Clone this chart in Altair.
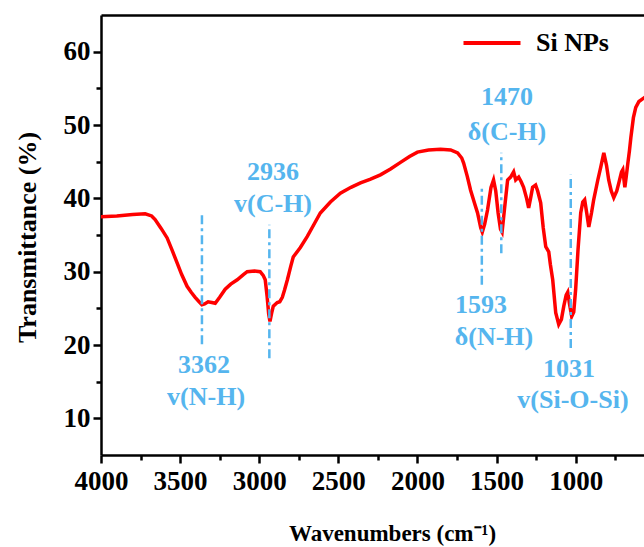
import altair as alt
import pandas as pd

# ---- data ----
wavenumber = [4000, 3900, 3800, 3721, 3680, 3658, 3620, 3582, 3550, 3519, 3490, 3456, 3430, 3405,
              3380, 3362, 3345, 3323, 3300, 3278, 3250, 3215, 3180, 3139, 3100, 3076, 3030, 2994,
              2975, 2962, 2950, 2940, 2932, 2920, 2911, 2886, 2870, 2854, 2840, 2822, 2800, 2785,
              2740, 2696, 2650, 2614, 2550, 2487, 2420, 2360, 2300, 2234, 2170, 2107, 2050, 2000,
              1930, 1854, 1790, 1746, 1720, 1708, 1685, 1664, 1640, 1620, 1600, 1590, 1575, 1557,
              1535, 1519, 1505, 1490, 1475, 1465, 1450, 1430, 1411, 1392, 1379, 1360, 1345, 1329,
              1310, 1297, 1285, 1272, 1253, 1240, 1221, 1205, 1189, 1170, 1160, 1145, 1126, 1107,
              1090, 1075, 1060, 1050, 1038, 1025, 1012, 1000, 985, 968, 955, 943, 930, 917, 900,
              886, 860, 841, 822, 805, 791, 775, 759, 740, 727, 710, 702, 689, 680, 670, 660, 651,
              635, 620, 600, 575, 560]
transmittance = [37.5, 37.6, 37.8, 37.9, 37.6, 37.1, 35.9, 34.6, 32.9, 31.2, 29.6, 28.0, 27.2, 26.5,
                 25.9, 25.5, 25.6, 25.9, 25.8, 25.7, 26.5, 27.6, 28.3, 28.9, 29.6, 30.0, 30.1, 30.0,
                 29.5, 28.9, 26.6, 24.2, 23.2, 24.5, 25.3, 25.8, 25.9, 26.5, 27.5, 28.9, 30.8, 32.0,
                 33.3, 34.8, 36.6, 38.0, 39.5, 40.7, 41.5, 42.1, 42.6, 43.2, 44.0, 44.9, 45.7, 46.3,
                 46.6, 46.7, 46.6, 46.2, 45.5, 44.8, 43.0, 41.1, 39.4, 38.0, 36.0, 35.4, 36.5, 38.4,
                 41.5, 42.5, 41.0, 38.0, 35.8, 35.4, 38.5, 42.5, 42.9, 43.6, 42.5, 42.9, 42.3, 41.5,
                 40.0, 38.7, 40.0, 41.5, 41.8, 41.0, 39.4, 36.0, 33.4, 32.7, 31.0, 28.9, 24.4, 22.8,
                 23.5, 25.3, 26.8, 27.2, 25.5, 23.9, 24.5, 27.6, 33.0, 38.0, 39.5, 39.8, 38.0, 36.1, 38.0,
                 39.8, 42.5, 44.3, 46.2, 44.5, 42.5, 41.0, 40.1, 41.0, 42.1, 43.6, 43.9, 41.5, 43.0, 44.8, 46.5, 48.3,
                 51.0, 52.4, 53.2, 53.6, 53.8]
series_name = "Si NPs"

peak_positions = [3362, 2936, 1593, 1470, 1031]
peak_line_low = [20.1, 18.2, 28.2, 32.5, 19.6]
peak_line_high = [38.1, 36.4, 41.5, 46.2, 43.2]

label_texts = ["3362", "v(N-H)", "2936", "v(C-H)", "1593", "δ(N-H)", "1470", "δ(C-H)", "1031", "v(Si-O-Si)"]
label_x = [3349, 3336, 2913, 2913, 1598, 1516, 1434, 1434, 1042, 1017]
label_y = [16.2, 11.8, 42.5, 38.1, 24.4, 20.0, 52.7, 48.0, 15.6, 11.4]

x_major = [1000, 1500, 2000, 2500, 3000, 3500, 4000]
x_minor = [750, 1250, 1750, 2250, 2750, 3250, 3750]
y_major = [10, 20, 30, 40, 50, 60]
y_minor = [15, 25, 35, 45, 55]

spectrum = pd.DataFrame({"wn": wavenumber, "T": transmittance, "series": series_name})
peaks = pd.DataFrame({"wn": peak_positions, "lo": peak_line_low, "hi": peak_line_high})
labels = pd.DataFrame({"wn": label_x, "T": label_y, "text": label_texts})

FONT = "Liberation Serif"
BLUE = "#55B5EE"

xscale = alt.Scale(domain=[4000, 568], nice=False, zero=False)
yscale = alt.Scale(domain=[5, 65], nice=False, zero=False)

line = alt.Chart(spectrum).mark_line(strokeWidth=3.5, clip=True).encode(
    x=alt.X("wn:Q", scale=xscale,
            axis=alt.Axis(values=x_major, format="d", title="Wavenumbers (cm⁻¹)",
                          titleX=291, titleY=85, titleBaseline="alphabetic", titleAnchor="middle",
                          titleAlign="center", titleFontSize=23, labelFontSize=27,
                          labelFlush=False, labelOverlap=False, labelBound=False,
                          labelPadding=5, tickSize=8, grid=False)),
    y=alt.Y("T:Q", scale=yscale,
            axis=alt.Axis(values=y_major, title="Transmittance (%)", titleX=-74, titleY=222,
                          titleAngle=-90, titleAlign="center", titleBaseline="middle",
                          labelFlush=False, labelOverlap=False,
                          titleFontSize=26, labelFontSize=27, labelPadding=3, tickSize=8, grid=False)),
    color=alt.Color("series:N", scale=alt.Scale(domain=[series_name], range=["#FF0000"]),
                    legend=alt.Legend(title=None, orient="none", legendX=360, legendY=-3,
                                      symbolType="stroke", symbolSize=3250, symbolStrokeWidth=4,
                                      labelFont=FONT, labelFontWeight="bold", labelColor="black",
                                      labelFontSize=26, labelOffset=13, padding=0)),
)

rules = alt.Chart(peaks).mark_rule(color=BLUE, strokeWidth=2.5, strokeDash=[9, 4, 3, 4]).encode(
    x=alt.X("wn:Q", scale=xscale,
            axis=alt.Axis(orient="bottom", values=x_minor, labels=False, domain=False,
                          ticks=True, tickSize=5, title=None, grid=False)),
    y=alt.Y("lo:Q", scale=yscale,
            axis=alt.Axis(orient="left", values=y_minor, labels=False, domain=False,
                          ticks=True, tickSize=5, title=None, grid=False)),
    y2="hi:Q",
)

texts = alt.Chart(labels).mark_text(color=BLUE, font=FONT, fontWeight="bold", fontSize=26,
                                    align="center", baseline="alphabetic").encode(
    x=alt.X("wn:Q", scale=xscale,
            axis=alt.Axis(orient="top", labels=False, ticks=False, domain=True, title=None, grid=False)),
    y=alt.Y("T:Q", scale=yscale, axis=None),
    text="text:N",
)

chart = alt.layer(line, rules, texts).resolve_axis(x="independent", y="independent").properties(
    width=543, height=440,
    autosize=alt.AutoSizeParams(type="none"),
    padding={"left": 101, "top": 15, "right": 0, "bottom": 92},
).configure(font=FONT).configure_view(stroke=None).configure_axis(
    labelFont=FONT, labelFontWeight="bold", labelColor="black",
    titleFont=FONT, titleFontWeight="bold", titleColor="black",
    domainColor="black", domainWidth=2.5, tickColor="black", tickWidth=2.5,
).configure_legend(labelFont=FONT, labelFontWeight="bold", labelColor="black")

chart.save("out.html", embed_options={"renderer": "svg", "actions": False})
